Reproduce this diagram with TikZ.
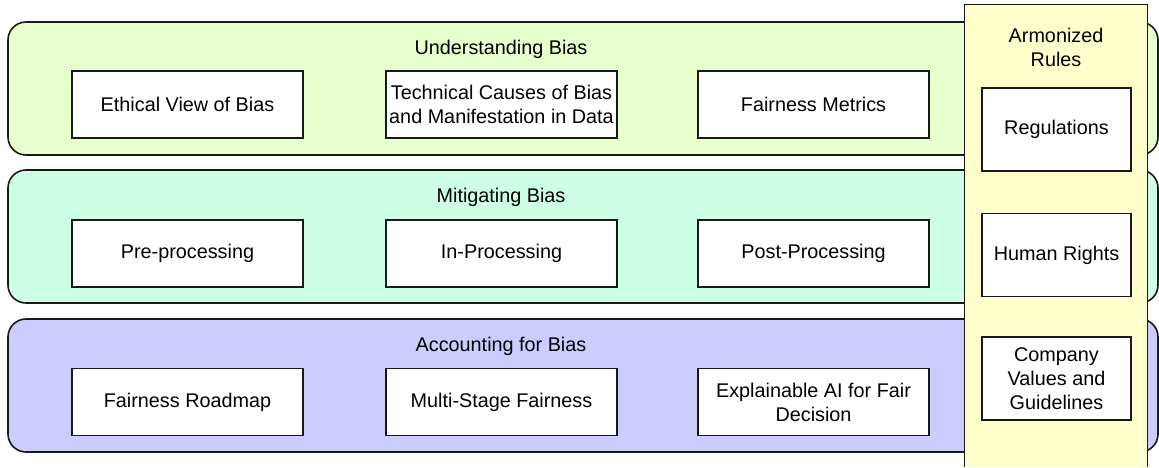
\documentclass[tikz,border=0pt]{standalone}
\usepackage{fontspec}
\setmainfont{Liberation Sans}
\usepackage{tikz}
\usetikzlibrary{positioning}
\definecolor{understandfill}{HTML}{E6FFCC}
\definecolor{mitigatefill}{HTML}{CCFFE6}
\definecolor{accountfill}{HTML}{CCCCFF}
\definecolor{rulesfill}{HTML}{FFFFCC}
\tikzstyle{band}=[draw=black!90,line width=0.8pt,rounded corners=9pt,minimum width=575pt,minimum height=66.5pt,inner sep=0pt]
\tikzstyle{item}=[draw=black!90,line width=0.8pt,fill=white,minimum width=115.5pt,minimum height=33.5pt,align=center,inner sep=1pt]
\tikzstyle{ruleitem}=[item,minimum width=74.5pt,minimum height=41.5pt]
\tikzstyle{title}=[align=center,inner sep=0pt]

\begin{document}
\begin{tikzpicture}[x=0.5pt,y=-0.5pt,font=\fontsize{9.9}{12}\selectfont]
  \useasboundingbox (0,0) rectangle (1159,467);
  % the three layers
  \foreach \yy/\id/\col/\name in {88.5/understand/understandfill/Understanding Bias,
      236.5/mitigate/mitigatefill/Mitigating Bias,385.5/account/accountfill/Accounting for Bias}{
    \node[band,fill=\col] (\id) at (583,\yy) {};
    \node[title] (\id-title) at (501,\yy-39.5) {\name};
  }
  \foreach \xx/\id/\name in {187.5/ethical/Ethical View of Bias,
      501.5/technical/Technical Causes of Bias\\and Manifestation in Data,
      813.5/metrics/Fairness Metrics}{
    \node[item] (\id) at (\xx,104.5) {\name};
  }
  \foreach \xx/\id/\name in {187.5/preproc/Pre-processing,
      501.5/inproc/In-Processing,813.5/postproc/Post-Processing}{
    \node[item] (\id) at (\xx,253.5) {\name};
  }
  \foreach \xx/\id/\name in {187.5/roadmap/Fairness Roadmap,
      501.5/multistage/Multi-Stage Fairness,
      813.5/xai/Explainable AI for Fair\\Decision}{
    \node[item] (\id) at (\xx,402) {\name};
  }
  % the rules column
  \node[fill=rulesfill,minimum width=91pt,minimum height=231pt,inner sep=0pt] (rules) at (1056,236) {};
  \draw[black!90,line width=0.8pt] (rules.south west) -- (rules.north west) -- (rules.north east) -- (rules.south east);
  \node[title] (rules-title) at (1056,47) {Armonized\\Rules};
  \foreach \yy/\id/\name in {129.5/regulations/Regulations,255/rights/Human Rights,
      378.5/company/Company\\Values and\\Guidelines}{
    \node[ruleitem] (\id) at (1056.5,\yy) {\name};
  }
\end{tikzpicture}
\end{document}
